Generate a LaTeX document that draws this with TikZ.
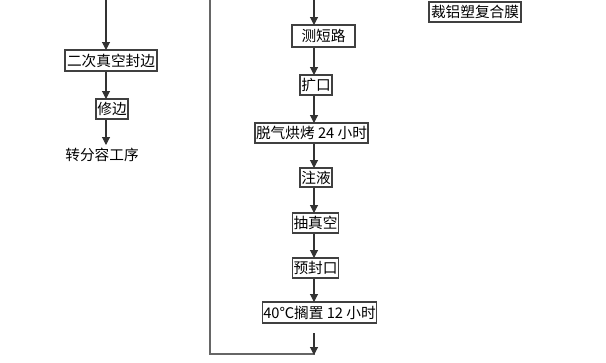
\documentclass[tikz,border=0pt]{standalone}
\usepackage{fontspec}
\setmainfont{Noto Sans CJK SC}
\usetikzlibrary{arrows.meta}
\begin{document}
\begin{tikzpicture}[x=0.75pt,y=-0.75pt,
  box/.style={draw=black!75,line width=0.8pt,inner sep=0.5pt,font=\fontsize{11}{12}\selectfont,anchor=center},
  plain/.style={inner sep=1pt,font=\fontsize{11}{12}\selectfont},
  arr/.style={draw=black!80,line width=0.8pt,-{Triangle[length=6pt,width=6pt]}},
  ln/.style={draw=black!60,line width=0.9pt}]
\useasboundingbox (0,0) rectangle (606,362);
% left column
\coordinate (ltop) at (106,0);
\node[box,minimum width=92*0.75pt,minimum height=21*0.75pt] (b1) at (111,60.5) {二次真空封边};
\node[box,minimum width=32*0.75pt,minimum height=20*0.75pt] (b2) at (112,109) {修边};
\node[plain] (b3) at (102,155) {转分容工序};
\draw[arr] (ltop) -- (106,50);
\draw[arr] (b1.south -| 106,0) -- (106,99);
\draw[arr] (b2.south -| 106,0) -- (106,145);
% right column
\coordinate (rtop) at (314,0);
\node[box,minimum width=63*0.75pt,minimum height=22*0.75pt] (r1) at (323.5,36) {测短路};
\node[box,minimum width=32*0.75pt,minimum height=20*0.75pt] (r2) at (316,85) {扩口};
\node[box,minimum width=113*0.75pt,minimum height=20*0.75pt] (r3) at (311.5,133) {脱气烘烤 24 小时};
\node[box,minimum width=32*0.75pt,minimum height=19*0.75pt] (r4) at (316,177.5) {注液};
\node[box,minimum width=45*0.75pt,minimum height=20*0.75pt] (r5) at (315.5,223) {抽真空};
\node[box,minimum width=45*0.75pt,minimum height=20*0.75pt] (r6) at (315.5,268) {预封口};
\node[box,minimum width=113*0.75pt,minimum height=21*0.75pt] (r7) at (319.5,312.5) {40℃搁置 12 小时};
\node[box,minimum width=92*0.75pt,minimum height=20*0.75pt] (c1) at (475,12) {裁铝塑复合膜};
\draw[arr] (rtop) -- (314,25);
\draw[arr] (r1.south -| 314,0) -- (314,75);
\draw[arr] (r2.south -| 314,0) -- (314,123);
\draw[arr] (r3.south -| 314,0) -- (314,168);
\draw[arr] (r4.south -| 314,0) -- (314,213);
\draw[arr] (r5.south -| 314,0) -- (314,258);
\draw[arr] (r6.south -| 314,0) -- (314,302);
% loop
\coordinate (lp1) at (210,0);
\coordinate (lp2) at (210,354);
\coordinate (lp3) at (315,354);
\draw[ln] (lp1) -- (lp2) -- (lp3);
\coordinate (a0) at (314,333);
\coordinate (a1) at (314,355);
\draw[arr] (a0) -- (a1);
\end{tikzpicture}
\end{document}
